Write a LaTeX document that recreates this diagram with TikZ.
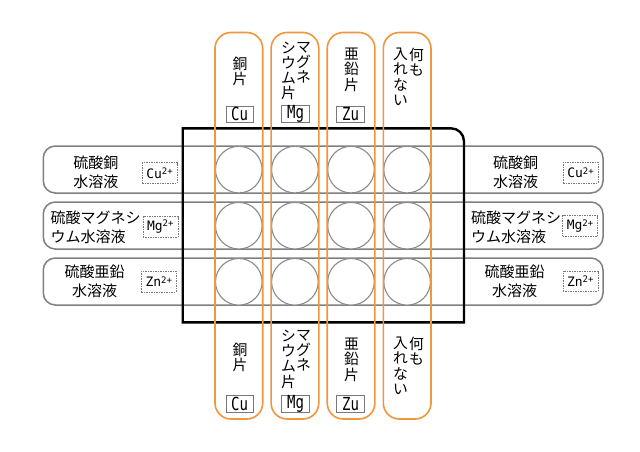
\documentclass[tikz,border=0pt]{standalone}
\usepackage{fontspec}
\newfontfamily\jpfont{Noto Sans CJK JP}
\newfontfamily\narrowmono[FakeStretch=0.78]{DejaVu Sans Mono}
\newfontfamily\ionfont{DejaVu Sans Mono}
\newcommand\ionsup[1]{\raisebox{3.8pt}{\fontsize{9}{9}\selectfont #1}}
\definecolor{orng}{RGB}{240,150,60}
\definecolor{rowgray}{RGB}{128,128,128}
\definecolor{wellgray}{RGB}{140,140,140}
\definecolor{boxgray}{RGB}{120,120,120}
\begin{document}
\setlength{\lineskiplimit}{-20pt}
\begin{tikzpicture}[x=1pt,y=-1pt,
  rowstrip/.style={draw=rowgray, line width=1.5pt, rounded corners=12pt},
  metalstrip/.style={draw=orng, line width=1.6pt, rounded corners=16pt},
  tray/.style={draw=black, line width=2.4pt, line join=miter},
  well/.style={draw=wellgray, fill=white, line width=1.1pt},
  jp/.style={font=\jpfont\fontsize{15}{18.5}\selectfont, inner sep=0pt},
  vjp/.style={font=\jpfont\fontsize{14.8}{15.2}\selectfont, align=center, inner sep=0pt, anchor=north},
  metalbox/.style={draw=boxgray, line width=0.8pt, minimum width=27.5pt, minimum height=16.3pt, inner sep=0pt, font=\narrowmono\fontsize{18}{18}\selectfont},
  ionbox/.style={draw=boxgray, dash pattern=on 1.5pt off 1pt, line width=0.6pt, minimum width=35pt, minimum height=20.5pt, inner sep=0pt, font=\ionfont\fontsize{13}{13}\selectfont}
]
\fill[white] (0,0) rectangle (640,452);
\useasboundingbox (0,0) rectangle (640,452);
% solution rows
\foreach \y in {146,202,258} \draw[rowstrip] (43.3,\y) rectangle (603,\y+47);
% tray
\draw[tray] (182.7,128.3) -- (451,128.3) arc[start angle=90,end angle=0,radius=13pt] -- (464,322.3) -- (182.7,322.3) -- cycle;
% wells
\foreach \i in {0,...,3} \foreach \j in {0,...,2}
  \draw[well] (238.8+56.1*\i,169.6+56.1*\j) circle[radius=23.3pt];
% metal strips
\foreach \i in {0,...,3}
  \draw[metalstrip] (215+56.1*\i,32.5) rectangle (262.7+56.1*\i,419);
% left labels
\node[jp, align=center] (L1) at (95.8,172.5) {硫酸銅\\水溶液};
\node[jp, align=left, anchor=west] (L2) at (50.5,227.5) {硫酸マグネシ\\ウム水溶液};
\node[jp, align=center] (L3) at (94.5,281.5) {硫酸亜鉛\\水溶液};
% right labels
\node[jp, align=center] (R1) at (515.5,172.5) {硫酸銅\\水溶液};
\node[jp, align=left, anchor=west] (R2) at (471,227.5) {硫酸マグネシ\\ウム水溶液};
\node[jp, align=center] (R3) at (514.5,281.5) {硫酸亜鉛\\水溶液};
% ion boxes
\node[ionbox] (IL1) at (159.5,173) {Cu\ionsup{2+}};
\node[ionbox] (IL2) at (160.3,226.8) {Mg\ionsup{2+}};
\node[ionbox] (IL3) at (158.8,281.7) {Zn\ionsup{2+}};
\node[ionbox] (IR1) at (580.5,172.7) {Cu\ionsup{2+}};
\node[ionbox] (IR2) at (580,226) {Mg\ionsup{2+}};
\node[ionbox] (IR3) at (580.3,281.2) {Zn\ionsup{2+}};
% top vertical labels
\node[vjp] (T1) at (240,56.7) {銅\\片};
\node[vjp] (T2a) at (303.5,41.7) {マ\\グ\\ネ};
\node[vjp] (T2b) at (288.5,41.7) {シ\\ウ\\ム\\片};
\node[vjp] (T3) at (351.5,48) {亜\\鉛\\片};
\node[vjp] (T4a) at (416.5,48) {何\\も};
\node[vjp] (T4b) at (400.5,48) {入\\れ\\な\\い};
% bottom vertical labels
\node[vjp] (B1) at (240,343) {銅\\片};
\node[vjp] (B2a) at (303.5,330) {マ\\グ\\ネ};
\node[vjp] (B2b) at (288.5,330) {シ\\ウ\\ム\\片};
\node[vjp] (B3) at (351.5,338) {亜\\鉛\\片};
\node[vjp] (B4a) at (416.5,337) {何\\も};
\node[vjp] (B4b) at (400.5,337) {入\\れ\\な\\い};
% metal symbol boxes
\node[metalbox] (MT1) at (239.7,114.2) {Cu};
\node[metalbox] (MT2) at (295.5,114.2) {Mg};
\node[metalbox] (MT3) at (350.5,114.2) {Zu};
\node[metalbox] (MB1) at (239.7,404) {Cu};
\node[metalbox] (MB2) at (295.5,404) {Mg};
\node[metalbox] (MB3) at (350.5,404) {Zu};
\end{tikzpicture}
\end{document}
